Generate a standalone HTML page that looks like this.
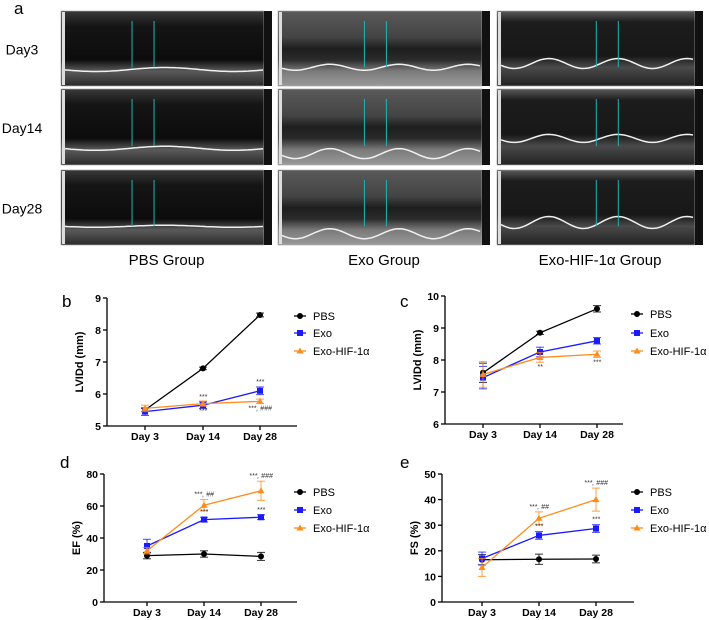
<!DOCTYPE html>
<html><head><meta charset="utf-8"><style>
body{margin:0;background:#fff;width:709px;height:620px;overflow:hidden;font-family:"Liberation Sans",Arial,sans-serif}
svg{position:absolute;left:0;top:0}
.lbl{font-family:"Liberation Sans",sans-serif}
</style></head><body>
<svg id="fig" width="709" height="620" viewBox="0 0 709 620">
<defs>
<linearGradient id="g1" x1="0" y1="0" x2="0" y2="1"><stop offset="0" stop-color="#3a3a3a"/><stop offset="0.2" stop-color="#151515"/><stop offset="0.65" stop-color="#0c0c0c"/><stop offset="0.8" stop-color="#5a5a5a"/><stop offset="1" stop-color="#2a2a2a"/></linearGradient>
<linearGradient id="g2" x1="0" y1="0" x2="0" y2="1"><stop offset="0" stop-color="#5a5a5a"/><stop offset="0.35" stop-color="#444"/><stop offset="0.5" stop-color="#1e1e1e"/><stop offset="0.65" stop-color="#2a2a2a"/><stop offset="0.8" stop-color="#7a7a7a"/><stop offset="1" stop-color="#9a9a9a"/></linearGradient>
<linearGradient id="g3" x1="0" y1="0" x2="0" y2="1"><stop offset="0" stop-color="#5a5a5a"/><stop offset="0.15" stop-color="#1c1c1c"/><stop offset="0.6" stop-color="#181818"/><stop offset="0.75" stop-color="#4a4a4a"/><stop offset="1" stop-color="#222"/></linearGradient>
</defs>
<text x="14" y="14" font-size="17" class="lbl">a</text>
<g id="us"></g>
<g id="charts"></g>
</svg>
<script>
const NS="http://www.w3.org/2000/svg";
function mk(tag,attrs,parent,txt){const e=document.createElementNS(NS,tag);for(const k in attrs)e.setAttribute(k,attrs[k]);if(txt!==undefined)e.textContent=txt;parent.appendChild(e);return e;}
const us=document.getElementById('us');
const cols=[[61,272],[278,490],[497,703]];
const rows=[[11,86],[89,165],[170,245]];
const rowNames=["Day3","Day14","Day28"];
const colNames=["PBS Group","Exo Group","Exo-HIF-1α Group"];
const grads=[["g1","g2","g3"],["g1","g2","g3"],["g1","g2","g3"]];
const waveAmp=[[2,3,5],[2,5,4],[1,5,6]];
const waveY=[[0.78,0.75,0.7],[0.78,0.85,0.65],[0.75,0.85,0.7]];
rows.forEach((r,ri)=>{
  const t=mk('text',{x:22,y:(r[0]+r[1])/2+6,'font-size':14,'text-anchor':'middle',class:'lbl'},us,rowNames[ri]);
  
  
  cols.forEach((c,ci)=>{
    const g=mk('g',{},us);
    
    
    const w=c[1]-c[0]-8,h=r[1]-r[0];
    mk('rect',{x:c[0],y:r[0],width:w,height:h,fill:"url(#"+grads[ri][ci]+")",stroke:'#aaa','stroke-width':0.7},g);
    mk('rect',{x:c[0]+1,y:r[0]+1,width:3,height:h-2,fill:'#ddd'},g);
    mk('rect',{x:c[0]+w,y:r[0],width:8,height:h,fill:'#111'},g);
    let d="";const y0=r[0]+h*waveY[ri][ci];
    for(let x=c[0]+4;x<=c[0]+w;x+=3){const y=y0+waveAmp[ri][ci]*Math.sin((x-c[0])/(ci==0?22:11));d+=(d?"L":"M")+x+","+y.toFixed(1);}
    mk('path',{d:d,stroke:'#f0f0f0','stroke-width':1.5,fill:'none'},g);
    const mx=c[0]+w*0.35+ci*15;
    mk('line',{x1:mx,y1:r[0]+10,x2:mx,y2:r[0]+h*0.75,stroke:'#1fb5b5','stroke-width':1},g);
    mk('line',{x1:mx+22,y1:r[0]+10,x2:mx+22,y2:r[0]+h*0.75,stroke:'#1fb5b5','stroke-width':1},g);
  });
});
colNames.forEach((n,ci)=>{
  const t=mk('text',{x:(cols[ci][0]+cols[ci][1])/2,y:265,'font-size':15,'text-anchor':'middle',class:'lbl'},us,n);
  
  
});

// ---- chart data ----
const days=["Day 3","Day 14","Day 28"];
const seriesNames=["PBS","Exo","Exo-HIF-1α"];
const bPBS=[5.5,6.8,8.47], bExo=[5.45,5.65,6.1], bHIF=[5.55,5.7,5.77];
const bPBSe=[0.05,0.04,0.06], bExoe=[0.12,0.1,0.12], bHIFe=[0.1,0.08,0.07];
const cPBS=[7.6,8.85,9.6], cExo=[7.45,8.25,8.6], cHIF=[7.55,8.08,8.18];
const cPBSe=[0.3,0.05,0.1], cExoe=[0.35,0.15,0.1], cHIFe=[0.4,0.15,0.1];
const dPBS=[29,30,28.5], dExo=[35,51.5,53], dHIF=[32,60.5,69.5];
const dPBSe=[2,2,2.5], dExoe=[4.2,1.5,1.5], dHIFe=[2,3.5,6];
const ePBS=[16.5,16.7,16.8], eExo=[17,26,28.7], eHIF=[13.5,32.7,40];
const ePBSe=[2,2,1.5], eExoe=[2.5,1.5,1.5], eHIFe=[3.5,2.5,4.5];
const bTicks=[5,6,7,8,9], cTicks=[6,7,8,9,10], dTicks=[0,20,40,60,80], eTicks=[0,10,20,30,40,50];
const bNotes=[["***",1,"Exo",-1],["***",1,"HIF",1],["***",2,"Exo",-1],["***, ###",2,"HIF",1]];
const dNotes=[["***, ##",1,"HIF",-1],["***",1,"Exo",-1],["***, ###",2,"HIF",-1],["***",2,"Exo",-1]];
const eNotes=[["***, ##",1,"HIF",-1],["***",1,"Exo",-1],["***, ###",2,"HIF",-1],["***",2,"Exo",-1]];
const cNotes=[["**",1,"HIF",1],["***",2,"HIF",1]];
const colors=["#000","#1a1aff","#ff8c1a"];

const panels=[
 {id:"b",letter:"b",lx:62,ly:307,ax:107,top:298,bot:426,xend:297,dx:[145,203,260],ticks:bTicks,ytitle:"LVIDd (mm)",
  data:[bPBS,bExo,bHIF],err:[bPBSe,bExoe,bHIFe],notes:bNotes,legx:300,legy:[316,333,351]},
 {id:"c",letter:"c",lx:400,ly:307,ax:445,top:296,bot:424,xend:623,dx:[483,540,597],ticks:cTicks,ytitle:"LVIDd (mm)",
  data:[cPBS,cExo,cHIF],err:[cPBSe,cExoe,cHIFe],notes:cNotes,legx:637,legy:[314,333,351]},
 {id:"d",letter:"d",lx:60,ly:468,ax:104,top:474,bot:602,xend:297,dx:[147,204,261],ticks:dTicks,ytitle:"EF (%)",
  data:[dPBS,dExo,dHIF],err:[dPBSe,dExoe,dHIFe],notes:dNotes,legx:300,legy:[492,510,528]},
 {id:"e",letter:"e",lx:400,ly:468,ax:442,top:474,bot:602,xend:634,dx:[482,539,596],ticks:eTicks,ytitle:"FS (%)",
  data:[ePBS,eExo,eHIF],err:[ePBSe,eExoe,eHIFe],notes:eNotes,legx:637,legy:[492,510,528]}
];
const ch=document.getElementById('charts');
function marker(g,i,x,y){
  let m;
  if(i==0)m=mk('circle',{cx:x,cy:y,r:3,fill:colors[0]},g);
  else if(i==1)m=mk('rect',{x:x-3,y:y-3,width:6,height:6,fill:colors[1]},g);
  else m=mk('path',{d:`M${x},${y-3.5}L${x+3.5},${y+2.5}L${x-3.5},${y+2.5}Z`,fill:colors[2]},g);
  return m;
}
panels.forEach(p=>{
  const g=mk('g',{},ch);
  
  
  const lo=p.ticks[0],hi=p.ticks[p.ticks.length-1];
  const ys=v=>p.bot-(v-lo)/(hi-lo)*(p.bot-p.top);
  const xs=i=>p.dx[i];
  const L=mk('text',{x:p.lx,y:p.ly,'font-size':17,class:'lbl'},g,p.letter);
  
  
  const ya=mk('line',{x1:p.ax,y1:p.top,x2:p.ax,y2:p.bot,stroke:'#000','stroke-width':1.3},g);
  
  
  const xa=mk('line',{x1:p.ax,y1:p.bot,x2:p.xend,y2:p.bot,stroke:'#000','stroke-width':1.3},g);
  
  
  p.ticks.forEach(t=>{
    mk('line',{x1:p.ax-4,y1:ys(t),x2:p.ax,y2:ys(t),stroke:'#000','stroke-width':1.3},g);
    const tl=mk('text',{x:p.ax-6,y:ys(t)+4,'font-size':10.5,'font-weight':'bold','text-anchor':'end',class:'lbl'},g,String(t));
    
    
  });
  days.forEach((d,i)=>{
    mk('line',{x1:xs(i),y1:p.bot,x2:xs(i),y2:p.bot+4,stroke:'#000','stroke-width':1.3},g);
    const tl=mk('text',{x:xs(i),y:p.bot+14,'font-size':10.5,'font-weight':'bold','text-anchor':'middle',class:'lbl'},g,d);
    
    
  });
  const cy=(p.top+p.bot)/2;
  const yt=mk('text',{x:p.ax-24,y:cy,'font-size':11,'font-weight':'bold','text-anchor':'middle',transform:`rotate(-90 ${p.ax-24} ${cy})`,class:'lbl'},g,p.ytitle);
  
  
  p.data.forEach((arr,si)=>{
    const sg=mk('g',{},g);
    
    
    const col=colors[si];
    arr.forEach((v,i)=>{
      const e=p.err[si][i];
      mk('line',{x1:xs(i),y1:ys(v-e),x2:xs(i),y2:ys(v+e),stroke:col,'stroke-width':1,opacity:0.8},sg);
      mk('line',{x1:xs(i)-4,y1:ys(v-e),x2:xs(i)+4,y2:ys(v-e),stroke:col,'stroke-width':1,opacity:0.8},sg);
      mk('line',{x1:xs(i)-4,y1:ys(v+e),x2:xs(i)+4,y2:ys(v+e),stroke:col,'stroke-width':1,opacity:0.8},sg);
    });
    const pts=arr.map((v,i)=>xs(i)+","+ys(v)).join(" ");
    const pl=mk('polyline',{points:pts,fill:'none',stroke:col,'stroke-width':1.3},sg);
    
    
    arr.forEach((v,i)=>{
      const m=marker(sg,si,xs(i),ys(v));
      
      
    });
  });
  p.notes.forEach(n=>{
    const si=n[2]=="Exo"?1:2,i=n[1];
    const v=p.data[si][i],e=p.err[si][i];
    const y=n[3]<0?ys(v+e)-3:ys(v-e)+7;
    const t=mk('text',{x:xs(i),y:y,'font-size':7,'font-style':'italic','text-anchor':'middle',fill:'#333',class:'lbl'},g,n[0]);
    
    
  });
  seriesNames.forEach((n,si)=>{
    const lg=mk('g',{},g);
    
    
    const y=p.legy[si];
    mk('line',{x1:p.legx-6,y1:y,x2:p.legx+6,y2:y,stroke:colors[si],'stroke-width':1.3},lg);
    marker(lg,si,p.legx,y);
    mk('text',{x:p.legx+13,y:y+4,'font-size':11,class:'lbl'},lg,n);
  });
});
</script>
</body></html>
